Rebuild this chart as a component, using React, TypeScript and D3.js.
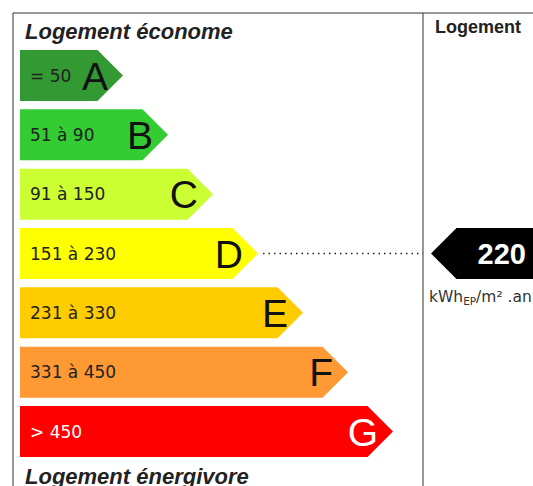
import React, { useEffect, useRef } from 'react';
import * as d3 from 'd3';

const classes = ['A', 'B', 'C', 'D', 'E', 'F', 'G'];
const ranges = ['= 50', '51 à 90', '91 à 150', '151 à 230', '231 à 330', '331 à 450', '> 450'];
const colors = ['#339933', '#33cc33', '#ccff33', '#ffff00', '#ffcc00', '#ff9933', '#ff0000'];
const upperBounds = [50, 90, 150, 230, 330, 450, Infinity];
const value = 220;
const unitLabel = 'kWh';

const W = 533;
const H = 486;

export default function App() {
  const svgRef = useRef<SVGSVGElement>(null);

  useEffect(() => {
    if (!svgRef.current) return;
    const svg = d3.select(svgRef.current);
    svg.selectAll('*').remove();

    const font = 'DejaVu Sans, sans-serif';
    const sans = 'Liberation Sans, Arial, sans-serif';
    const frameX = 13;
    const frameY = 13;
    const divider = 423;

    // rows
    const y = d3.scaleBand<string>()
      .domain(classes)
      .range([50, 457])
      .paddingInner(0.14)
      .paddingOuter(0);

    // tip x position by class index
    const tipX = d3.scaleLinear().domain([0, 6]).range([123, 393]);
    const barLeft = 20;

    // frame
    svg.append('path')
      .attr('d', `M${frameX},${H} V${frameY} H${W}`)
      .attr('fill', 'none')
      .attr('stroke', '#333')
      .attr('stroke-width', 1);
    svg.append('line')
      .attr('x1', divider).attr('x2', divider)
      .attr('y1', frameY).attr('y2', H)
      .attr('stroke', '#333')
      .attr('stroke-width', 1);

    svg.append('text')
      .attr('x', 25).attr('y', 39)
      .attr('font-family', sans)
      .attr('font-size', 22)
      .attr('font-weight', 'bold')
      .attr('font-style', 'italic')
      .attr('fill', '#222')
      .text('Logement économe');

    svg.append('text')
      .attr('x', 25).attr('y', 484)
      .attr('font-family', sans)
      .attr('font-size', 22)
      .attr('font-weight', 'bold')
      .attr('font-style', 'italic')
      .attr('fill', '#222')
      .text('Logement énergivore');

    svg.append('text')
      .attr('x', 435).attr('y', 33)
      .attr('font-family', sans)
      .attr('font-size', 18)
      .attr('font-weight', 'bold')
      .attr('fill', '#222')
      .text('Logement');

    const h = y.bandwidth();
    const rows = svg.append('g')
      .selectAll('g')
      .data(classes)
      .join('g')
      .attr('transform', d => `translate(0,${y(d)})`);

    rows.append('path')
      .attr('d', (_, i) => {
        const t = tipX(i);
        const r = t - h / 2;
        return `M${barLeft},0 H${r} L${t},${h / 2} L${r},${h} H${barLeft} Z`;
      })
      .attr('fill', (_, i) => colors[i]);

    rows.append('text')
      .attr('x', 30)
      .attr('y', h / 2)
      .attr('dy', '0.36em')
      .attr('font-family', font)
      .attr('font-size', 17)
      .attr('fill', (_, i) => (i === 6 ? '#fff' : '#222'))
      .text((_, i) => ranges[i]);

    rows.append('text')
      .attr('x', (_, i) => tipX(i) - 15)
      .attr('y', h / 2)
      .attr('dy', '0.36em')
      .attr('text-anchor', 'end')
      .attr('font-family', sans)
      .attr('font-size', 39)
      .attr('fill', (_, i) => (i === 6 ? '#fff' : '#111'))
      .text(d => d);

    // selected class
    const idx = upperBounds.findIndex(b => value <= b);
    const cy = (y(classes[idx]) as number) + h / 2;

    svg.append('line')
      .attr('x1', tipX(idx) + 5)
      .attr('x2', divider)
      .attr('y1', cy).attr('y2', cy)
      .attr('stroke', '#222')
      .attr('stroke-width', 1.5)
      .attr('stroke-dasharray', '1.5,4');

    const mTip = 431;
    svg.append('path')
      .attr('d', `M${mTip},${cy} L${mTip + h / 2},${cy - h / 2} H${W + 5} V${cy + h / 2} H${mTip + h / 2} Z`)
      .attr('fill', '#000');

    svg.append('text')
      .attr('x', 526)
      .attr('y', cy)
      .attr('dy', '0.36em')
      .attr('text-anchor', 'end')
      .attr('font-family', sans)
      .attr('font-size', 29)
      .attr('font-weight', 'bold')
      .attr('fill', '#fff')
      .text(String(value));

    const unit = svg.append('text')
      .attr('x', 429)
      .attr('y', 302)
      .attr('font-family', font)
      .attr('font-size', 15.5)
      .attr('fill', '#333');
    unit.append('tspan').text(unitLabel);
    unit.append('tspan').attr('font-size', 10.5).attr('dy', 3).text('EP');
    unit.append('tspan').attr('dy', -3).text('/m² .an');
  }, []);

  return (
    <div style={{ position: 'absolute', left: 0, top: 0, width: W, height: H, background: '#fff' }}>
      <svg ref={svgRef} width={W} height={H} style={{ display: 'block' }} />
    </div>
  );
}
